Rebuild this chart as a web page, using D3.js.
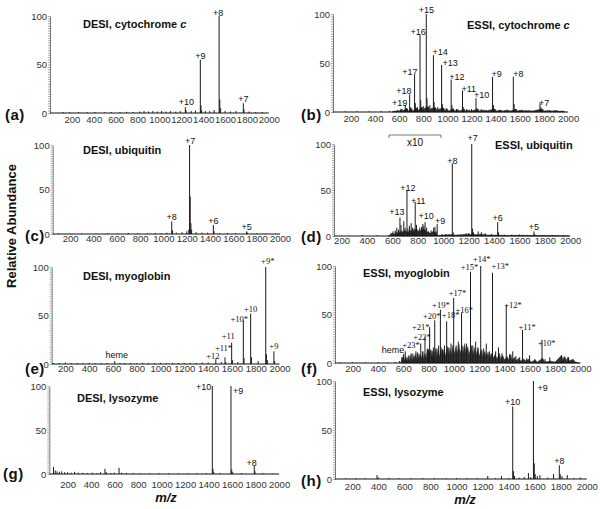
<!DOCTYPE html>
<html>
<head>
<meta charset="utf-8">
<script src="https://cdn.jsdelivr.net/npm/d3@7"></script>
<style>
  body { margin: 0; background: #fff; }
  text { font-family: Arial, "Liberation Sans", Helvetica, sans-serif; fill: #111; }
  .tick text { fill: #333; }
  .serif { font-family: "Liberation Serif", "Times New Roman", serif; }
</style>
</head>
<body>
<svg width="600" height="509"></svg>
<script>
// axis values
var xTicks = [200, 400, 600, 800, 1000, 1200, 1400, 1600, 1800, 2000];
var yTicks = [0, 50, 100];

// every spectrum is a list of [m/z, relative abundance] sticks

// (a) DESI, cytochrome c
var desiCytPeaks = [[120,1],[180,0.8],[260,1],[340,0.8],[410,1],[500,0.8],[560,1],[640,1],[700,1.2],[760,1],
  [820,1.5],[860,2],[900,1.5],[940,2],[980,1.5],[1020,2],[1060,1.5],[1100,2],[1150,1.5],[1190,2],
  [1237,6],[1243,3],[1290,2],[1330,2.5],[1374,55],[1380,8],[1386,3],[1420,2],[1460,2],[1500,3],
  [1546,100],[1552,14],[1560,5],[1600,2],[1650,1.5],[1700,2],[1767,10],[1773,4],[1820,1.5],[1880,1],[1940,1]];
var desiCytLabels = [["+10",1237],["+9",1374],["+8",1546],["+7",1767]];

// (b) ESSI, cytochrome c
var essiCytPeaks = [[150,0.5],[250,0.8],[350,0.6],[450,0.8],[520,1],[580,1.5],[610,2],[625,3],
  [651,7],[657,3],[668,3],[687,18],[693,5],[705,4],[728,38],[734,9],[740,4],[752,5],[773,79],[779,12],[786,5],
  [800,6],[825,100],[831,14],[838,6],[855,7],[884,58],[890,10],[897,5],[920,5],[952,48],[958,8],[965,4],[990,4],
  [1031,33],[1037,7],[1045,3],[1075,3],[1125,22],[1131,5],[1160,3],[1200,3],[1237,14],[1244,4],[1280,3],[1320,2],
  [1374,36],[1381,7],[1390,3],[1430,2],[1480,2],[1546,36],[1553,8],[1562,3],[1600,2],[1650,2],[1700,1.5],
  [1767,9],[1774,5],[1782,3],[1850,2],[1900,1.5],[1950,1]];
var essiCytGrass = [[540,0],[560,1],[575,0.5],[590,2],[600,0.5],[615,3],[625,1],[640,2],[665,4],[675,1],[700,3],
  [712,1],[745,4],[755,1.5],[790,5],[800,2],[812,4],[845,5],[855,2],[870,4],[905,4],[915,1.5],[930,3],[970,4],
  [980,1.5],[1000,3],[1010,1],[1050,3.5],[1060,1],[1090,2.5],[1100,1],[1140,3],[1150,1],[1180,2],[1195,1],
  [1255,3],[1265,1],[1300,2],[1320,1],[1350,2],[1395,3],[1405,1],[1440,2],[1460,1],[1500,2],[1520,1],[1570,3],
  [1580,1],[1620,2],[1640,1],[1680,1.5],[1700,0.8],[1740,2],[1790,3],[1800,1],[1830,1.5],[1860,1],[1900,1.5],
  [1930,0.8],[1960,1],[1975,0]];
var essiCytLabels = [["+19",651],["+18",687],["+17",728],["+16",773],["+15",825],["+14",884],["+13",952],
  ["+12",1031],["+11",1125],["+10",1237],["+9",1374],["+8",1546],["+7",1767]];

// (c) DESI, ubiquitin
var desiUbqPeaks = [[100,0.8],[200,0.5],[300,0.8],[420,0.5],[520,0.8],[610,0.6],[700,1],[780,0.8],[860,1],
  [930,1.2],[980,1],[1030,1.5],[1071.6,14],[1078,4],[1110,1.5],[1160,2],[1200,3],[1218,5],[1224.6,100],
  [1230,42],[1236,12],[1242,5],[1280,2],[1330,1.5],[1380,1.5],[1428.5,10],[1435,3],[1480,1],[1550,1],
  [1620,1],[1714,3],[1720,1.5],[1800,0.8],[1880,0.6],[1960,0.5]];
var desiUbqLabels = [["+8",1071.6],["+7",1224.6],["+6",1428.5],["+5",1714]];

// (d) ESSI, ubiquitin (570-980 shown x10)
var essiUbqPeaks = [[200,0.5],[360,1],[480,0.8],[590,3],[605,5],[622,6],[635,9],[648,7],[659.8,20],[668,12],
  [676,6],[690,16],[700,9],[714.8,50],[722,8],[734,11],[748,14],[758,9],[770,8],[779.6,37],[790,12],[800,7],
  [815,9],[830,10],[840,13],[848,11],[857.5,15],[870,9],[885,5],[905,6],[925,9],[935,10],[945,5],[952.7,13],
  [990,2],[1020,2],[1071.6,79],[1078,4],[1180,3],[1200,3],[1224.6,100],[1231,8],[1238,4],[1275,5],[1300,4],
  [1330,3],[1380,2],[1428.5,15],[1435,4],[1480,1.5],[1540,1.5],[1600,1.5],[1660,1],[1714,5],[1720,2],
  [1780,1],[1860,1],[1950,0.8]];
var essiUbqGrass = [[565,0],[580,1],[600,3],[615,2],[630,4],[650,3],[660,5],[680,4],[700,6],[720,4],[740,6],
  [760,5],[780,7],[800,5],[820,6],[840,8],[860,6],[880,4],[900,3],[920,5],[940,4],[950,1],[960,0.5],[1000,1],
  [1050,1.5],[1100,1],[1150,1.5],[1200,2],[1260,1.5],[1300,2],[1350,1],[1400,1],[1500,0.5],[1600,0.8],
  [1700,0.5],[1800,0.5],[1900,0.3],[1990,0]];
var essiUbqLabels = [["+13",659.8],["+12",714.8],["+11",779.6],["+10",857.5],["+9",952.7],["+8",1071.6],
  ["+7",1224.6],["+6",1428.5],["+5",1714]];
var zoomRange = [574, 982];

// (e) DESI, myoglobin (* = apo form)
var desiMyoPeaks = [[100,0.8],[150,1],[200,1.5],[250,1],[300,1],[350,0.8],[400,1],[450,0.8],[500,1],[550,1],
  [616,3],[660,1],[700,1],[750,1],[800,1],[850,1.2],[900,1],[950,1],[1000,1.2],[1050,1],[1100,1.2],[1150,1],
  [1200,1],[1250,1.2],[1300,1],[1350,1.5],[1400,1.5],[1464.9,5],[1510,2],[1542,7],[1548,2],[1598,22],
  [1604,4],[1650,2],[1696.1,45],[1702,6],[1757.7,52],[1764,7],[1820,3],[1884.4,100],[1890,10],[1898,4],
  [1952.9,13],[1959,3]];
var desiMyoLabels = [["heme",616],["+12",1464.9],["+11*",1542],["+11",1598],["+10*",1696.1],["+10",1757.7],
  ["+9*",1884.4],["+9",1952.9]];

// (f) ESSI, myoglobin
var essiMyoPeaks = [[100,0.5],[200,0.8],[300,0.5],[400,0.8],[480,0.5],[540,1],[570,2],[592,6],[603,9],
  [616,12],[622,4],[628,6],[645,8],[662,10],[684,7],[700,12],[716,10],[738,20],[755,12],[771.5,27],[790,15],
  [799.5,14],[808.2,37],[826,13],[837.5,16],[848.6,44],[866,15],[879.4,18],[893.2,55],[910,14],[925.6,18],
  [942.7,43],[960,16],[977,20],[998.1,67],[1018,18],[1034.4,22],[1060.4,52],[1080,17],[1099,20],[1131.1,94],
  [1150,18],[1172.1,22],[1190,16],[1211.8,100],[1235,15],[1255.8,20],[1280,12],[1304.9,93],[1330,12],
  [1352.3,16],[1380,10],[1413.6,60],[1440,9],[1464.9,12],[1490,7],[1520,6],[1542,34],[1575,5],[1598,8],
  [1640,4],[1696.1,24],[1720,4],[1757.7,6],[1850,8],[1862,6],[1880,5],[1905,6],[1930,3]];
var essiMyoGrass = [[580,0],[590,6],[596,1],[602,9],[610,2],[620,5],[628,1],[640,7],[648,2],[660,8],[668,2],
  [676,10],[684,3],[695,9],[703,3],[712,11],[720,4],[730,9],[745,5],[752,12],[760,4],[770,10],[780,5],[790,13],
  [800,5],[815,14],[825,6],[835,12],[842,5],[856,15],[865,6],[875,13],[885,6],[900,16],[910,7],[922,14],
  [932,7],[950,17],[960,8],[970,15],[980,8],[990,18],[1005,9],[1015,16],[1025,9],[1040,19],[1050,10],
  [1065,18],[1075,9],[1085,20],[1095,10],[1110,17],[1120,9],[1140,18],[1150,8],[1165,16],[1175,8],[1190,15],
  [1200,7],[1220,14],[1230,6],[1245,12],[1255,6],[1270,11],[1280,5],[1295,10],[1310,5],[1325,9],[1340,4],
  [1360,10],[1370,4],[1385,8],[1400,3],[1420,7],[1435,3],[1450,9],[1460,3],[1480,6],[1490,2],[1510,5],
  [1525,2],[1550,4],[1570,2],[1590,4],[1610,1],[1640,3],[1660,1],[1700,5],[1720,1],[1760,2],[1800,1],
  [1850,8],[1860,2],[1875,7],[1885,2],[1900,6],[1915,2],[1940,4],[1960,1],[1990,0]];
var essiMyoLabels = [["heme",616],["+23*",738],["+22*",771.5],["+21*",808.2],["+20*",848.6],["+19*",893.2],
  ["+18*",942.7],["+17*",998.1],["+16*",1060.4],["+15*",1131.1],["+14*",1211.8],["+13*",1304.9],
  ["+12*",1413.6],["+11*",1542],["+10*",1696.1]];

// (g) DESI, lysozyme
var desiLysPeaks = [[80,8],[95,4],[110,3],[130,2.5],[150,3],[175,2],[200,2],[230,1.5],[260,2.5],[290,1.5],
  [330,1.5],[370,1],[410,1.5],[450,1],[480,2],[518,6],[530,2],[570,1],[600,1.5],[638,7],[660,1.5],[700,1],
  [760,1],[820,0.8],[900,0.8],[980,0.8],[1060,0.8],[1140,0.8],[1220,0.8],[1300,0.8],[1380,1],[1431.5,100],
  [1437,6],[1445,2],[1500,1],[1590.5,100],[1597,5],[1605,2],[1680,1],[1789,9],[1795,3],[1860,0.8],[1940,0.6]];
var desiLysLabels = [["+10",1431.5],["+9",1590.5],["+8",1789]];

// (h) ESSI, lysozyme
var essiLysPeaks = [[150,0.8],[230,1],[300,0.8],[390,4],[400,1.5],[480,1],[560,0.8],[650,0.8],[740,0.8],
  [830,0.8],[920,0.8],[1000,1],[1080,1],[1160,1],[1240,3],[1300,1],[1345,3],[1400,1],[1431.5,74],[1437,8],
  [1445,3],[1480,1.5],[1520,2],[1552,6],[1570,2],[1590.5,100],[1597,16],[1604,5],[1620,3],[1640,4],
  [1700,1.5],[1745,5],[1789,14],[1796,5],[1810,3],[1850,4],[1900,1],[1950,1.5]];
var essiLysLabels = [["+10",1431.5],["+9",1590.5],["+8",1789]];

// layout of the eight panels (pixels)
var panels = [
  {tag:"(a)", title:"DESI, cytochrome ", it:"c", peaks:desiCytPeaks, labels:desiCytLabels,
   left:50, mz0:0, right:268.8, top:16, base:113, xpad:3.5, tx:83, ty:28, gx:5, gy:120,
   place:[["m",1,-2],["m",0,-1],["m",-1,0],["m",0,-1.5]]},
  {tag:"(b)", title:"ESSI, cytochrome ", it:"c", peaks:essiCytPeaks, grass:essiCytGrass, labels:essiCytLabels,
   left:333, mz0:52, right:568.1, top:14, base:112, xpad:3, tx:467, ty:29, gx:301, gy:120,
   place:[["e",2,1],["e",2,0],["e",3,0],["m",-2,0.5],["m",0,-1],["s",-1,0],["s",1,1],["s",-2,0],["s",-1,2],
          ["s",-2,0],["s",-1,0],["s",0,0],["s",-1,3]]},
  {tag:"(c)", title:"DESI, ubiquitin", peaks:desiUbqPeaks, labels:desiUbqLabels,
   left:52.7, mz0:50.6, right:280, top:145, base:234, xpad:1.5, tx:83, ty:154, gx:25, gy:241,
   place:[["m",0,-1.5],["m",0.5,-1.5],["m",0,-1.5],["m",0,-1.5]]},
  {tag:"(d)", title:"ESSI, ubiquitin", peaks:essiUbqPeaks, grass:essiUbqGrass, labels:essiUbqLabels, zoom:zoomRange,
   left:334, mz0:140.8, right:570.3, top:144, base:236, xpad:1, tx:495, ty:149, gx:301, gy:242,
   place:[["m",-3,-2.4],["m",1,1],["m",3,2],["m",1,-3.7],["m",3,0],["m",0,1],["m",1,-3],["m",0,-1.4],["m",0,-1.2]]},
  {tag:"(e)", title:"DESI, myoglobin", peaks:desiMyoPeaks, labels:desiMyoLabels, serif:true,
   left:51.7, mz0:85.7, right:279.5, top:267, base:364, xpad:1.5, tx:83, ty:280, gx:25, gy:374,
   place:[["m",2,-3.5],["m",-3,-0.5],["m",-1.5,-6],["m",-3.4,-4],["m",-4,1.4],["m",0,-1.8],["m",2,-3.5],["m",0,-2]]},
  {tag:"(f)", title:"ESSI, myoglobin", peaks:essiMyoPeaks, grass:essiMyoGrass, labels:essiMyoLabels, serif:true,
   left:335, mz0:60.8, right:580.5, top:266, base:363, xpad:2, tx:363, ty:277, gx:301, gy:374,
   place:[["e",-1,1.4],["e",-1,4],["m",-3,3.4],["e",0,3],["m",-3,-1.8],["m",0.5,-2],["m",4,-2.8],["m",3.8,-2.2],
          ["m",2.7,0],["m",-1,-2],["m",1,-4],["s",-1,-3.6],["s",-2,3],["s",-4,0],["s",-4,6]]},
  {tag:"(g)", title:"DESI, lysozyme", peaks:desiLysPeaks, labels:desiLysLabels,
   left:49.3, mz0:44.3, right:279.1, top:386, base:474, xpad:7, tx:77, ty:402, gx:3, gy:479, mzX:166, mzY:502,
   place:[["e",-1,4],["s",2,7.5],["m",-2.6,0]]},
  {tag:"(h)", title:"ESSI, lysozyme", peaks:essiLysPeaks, labels:essiLysLabels,
   left:335, mz0:67.5, right:586.8, top:381, base:479, xpad:4.5, tx:363, ty:396, gx:301, gy:486, mzX:465, mzY:504,
   place:[["m",0,-1.3],["s",4,10],["m",0,-1]]}
];

var svg = d3.select("svg");
var anchors = {m:"middle", s:"start", e:"end"};

function topOf(peaks, mz) {
  return peaks.find(function(p) { return p[0] === mz; })[1];
}

panels.forEach(function(p) {
  var x = d3.scaleLinear().domain([p.mz0, 2000]).range([p.left, p.right]);
  var y = d3.scaleLinear().domain([0, 100]).range([p.base, p.top]);
  var g = svg.append("g");

  // ruler-like y axis
  var ruler = g.append("g").attr("transform", "translate(" + p.left + ",0)")
      .call(d3.axisLeft(y).tickValues(d3.range(0, 100.1, 2.5)).tickSize(2).tickSizeOuter(0).tickFormat(""));
  ruler.select(".domain").attr("stroke", "#777");
  ruler.selectAll(".tick line").attr("stroke", "#aaa");
  var yax = g.append("g").attr("transform", "translate(" + p.left + ",0)")
      .call(d3.axisLeft(y).tickValues(yTicks).tickSize(0).tickSizeOuter(0).tickPadding(3));
  yax.select(".domain").remove();
  yax.selectAll("text").style("font-size", "9.5px");

  // background grass
  if (p.grass) {
    g.append("path").datum(p.grass)
      .attr("d", d3.area().x(function(d) { return x(d[0]); }).y0(y(0)).y1(function(d) { return y(d[1]); }))
      .attr("fill", "#333").attr("stroke", "#333").attr("stroke-width", 0.5);
  }

  // sticks
  g.selectAll(".pk").data(p.peaks).enter().append("line")
    .attr("x1", function(d) { return x(d[0]); })
    .attr("x2", function(d) { return x(d[0]); })
    .attr("y1", y(0))
    .attr("y2", function(d) { return y(d[1]); })
    .attr("stroke", "#1a1a1a").attr("stroke-width", 1);

  // baseline and m/z labels
  g.append("line").attr("x1", p.left).attr("x2", x(2000)).attr("y1", y(0)).attr("y2", y(0))
    .attr("stroke", "#111").attr("stroke-width", 1);
  var xax = g.append("g").attr("transform", "translate(0," + p.base + ")")
      .call(d3.axisBottom(x).tickValues(xTicks).tickSize(0).tickPadding(p.xpad).tickFormat(d3.format("d")));
  xax.select(".domain").remove();
  xax.selectAll("text").style("font-size", "9.5px");

  // x10 bracket
  if (p.zoom) {
    var zy = p.top - 9;
    g.append("path")
      .attr("d", "M" + x(p.zoom[0]) + "," + (zy + 3) + "V" + zy + "H" + x(p.zoom[1]) + "V" + (zy + 3))
      .attr("fill", "none").attr("stroke", "#555").attr("stroke-width", 0.8);
    g.append("text").attr("x", x((p.zoom[0] + p.zoom[1]) / 2)).attr("y", zy + 11)
      .attr("text-anchor", "middle").style("font-size", "10px").text("x10");
  }

  // peak labels
  g.selectAll(".lab").data(p.labels).enter().append("text")
    .attr("class", function(d) { return p.serif && d[0][0] === "+" ? "serif" : null; })
    .attr("x", function(d, i) { return x(d[1]) + p.place[i][1]; })
    .attr("y", function(d, i) { return y(topOf(p.peaks, d[1])) + p.place[i][2]; })
    .attr("text-anchor", function(d, i) { return anchors[p.place[i][0]]; })
    .style("font-size", function(d) { return p.serif && d[0][0] === "+" ? "8.5px" : "9px"; })
    .text(function(d) { return d[0]; });

  // title
  var t = g.append("text").attr("x", p.tx).attr("y", p.ty)
    .style("font-size", "11px").style("font-weight", "bold").text(p.title);
  if (p.it) t.append("tspan").style("font-style", "italic").text(p.it);

  // panel tag
  g.append("text").attr("x", p.gx).attr("y", p.gy)
    .style("font-size", "15px").style("font-weight", "bold").style("letter-spacing", "0.5px").text(p.tag);

  if (p.mzX) {
    g.append("text").attr("x", p.mzX).attr("y", p.mzY).attr("text-anchor", "middle")
      .style("font-size", "13px").style("font-weight", "bold").style("font-style", "italic").text("m/z");
  }
});

svg.append("text")
  .attr("transform", "translate(16,226) rotate(-90)")
  .attr("text-anchor", "middle")
  .style("font-size", "13px").style("font-weight", "bold")
  .text("Relative Abundance");
</script>
</body>
</html>
